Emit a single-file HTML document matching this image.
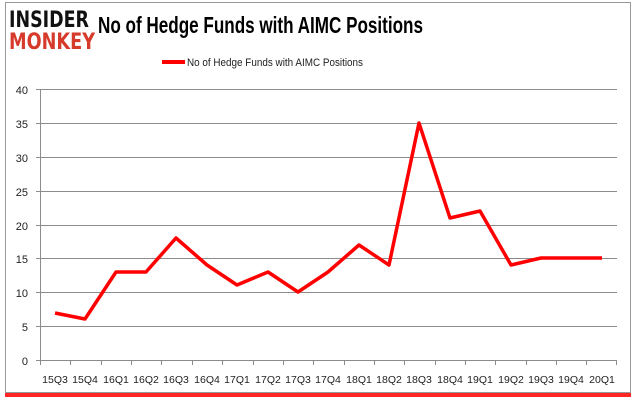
<html><body style="margin:0;background:#fff;width:635px;height:405px;overflow:hidden">
<svg width="635" height="405" xmlns="http://www.w3.org/2000/svg" font-family="Liberation Sans, sans-serif">
<rect x="5" y="392" width="626" height="5" fill="#f00" opacity="0.85"/>
<rect x="5.5" y="2.5" width="625" height="390" fill="#fff" stroke="#999"/>
<text x="9" y="27" font-size="22" font-weight="bold" fill="#111" font-family="DejaVu Sans, sans-serif" textLength="80" lengthAdjust="spacingAndGlyphs">INSIDER</text>
<text x="9" y="49" font-size="22" font-weight="bold" fill="#d63a2a" font-family="DejaVu Sans, sans-serif" textLength="86" lengthAdjust="spacingAndGlyphs">MONKEY</text>
<text x="98" y="33" font-size="23" font-weight="bold" fill="#000" textLength="325" lengthAdjust="spacingAndGlyphs">No of Hedge Funds with AIMC Positions</text>
<line x1="162" y1="62" x2="185" y2="62" stroke="#f00" stroke-width="4"/>
<text x="187" y="66" font-size="11" fill="#222" textLength="176" lengthAdjust="spacingAndGlyphs">No of Hedge Funds with AIMC Positions</text>
<g stroke="#8c8c8c" stroke-width="1">
<line x1="36" y1="89.5" x2="617" y2="89.5"/><line x1="36" y1="123.5" x2="617" y2="123.5"/><line x1="36" y1="157.5" x2="617" y2="157.5"/><line x1="36" y1="191.5" x2="617" y2="191.5"/><line x1="36" y1="225.5" x2="617" y2="225.5"/><line x1="36" y1="258.5" x2="617" y2="258.5"/><line x1="36" y1="292.5" x2="617" y2="292.5"/><line x1="36" y1="326.5" x2="617" y2="326.5"/><line x1="36" y1="360.5" x2="617" y2="360.5"/>
<line x1="40.5" y1="89" x2="40.5" y2="365"/>
<path d="M70.5 360v5M101.5 360v5M131.5 360v5M161.5 360v5M192.5 360v5M222.5 360v5M253.5 360v5M283.5 360v5M313.5 360v5M344.5 360v5M374.5 360v5M404.5 360v5M435.5 360v5M465.5 360v5M495.5 360v5M526.5 360v5M556.5 360v5M586.5 360v5M616.5 360v5"/>
</g>
<g font-size="11" fill="#222" text-anchor="end">
<text x="28" y="94">40</text><text x="28" y="128">35</text><text x="28" y="162">30</text><text x="28" y="196">25</text><text x="28" y="230">20</text><text x="28" y="263">15</text><text x="28" y="297">10</text><text x="28" y="331">5</text><text x="28" y="365">0</text>
</g>
<g font-size="10.5" fill="#222" text-anchor="middle">
<text x="55" y="383">15Q3</text><text x="85" y="383">15Q4</text><text x="116" y="383">16Q1</text><text x="146" y="383">16Q2</text><text x="176" y="383">16Q3</text><text x="207" y="383">16Q4</text><text x="237" y="383">17Q1</text><text x="268" y="383">17Q2</text><text x="298" y="383">17Q3</text><text x="328" y="383">17Q4</text><text x="359" y="383">18Q1</text><text x="389" y="383">18Q2</text><text x="419" y="383">18Q3</text><text x="450" y="383">18Q4</text><text x="480" y="383">19Q1</text><text x="511" y="383">19Q2</text><text x="541" y="383">19Q3</text><text x="571" y="383">19Q4</text><text x="602" y="383">20Q1</text>
</g>
<polyline fill="none" stroke="#f00" stroke-width="3.5" stroke-linejoin="round" points="55,313 85,319 116,272 146,272 176,238 207,265 237,285 268,272 298,292 328,272 359,245 389,265 419,123 450,218 480,211 511,265 541,258 571,258 602,258"/>
</svg>
</body></html>
